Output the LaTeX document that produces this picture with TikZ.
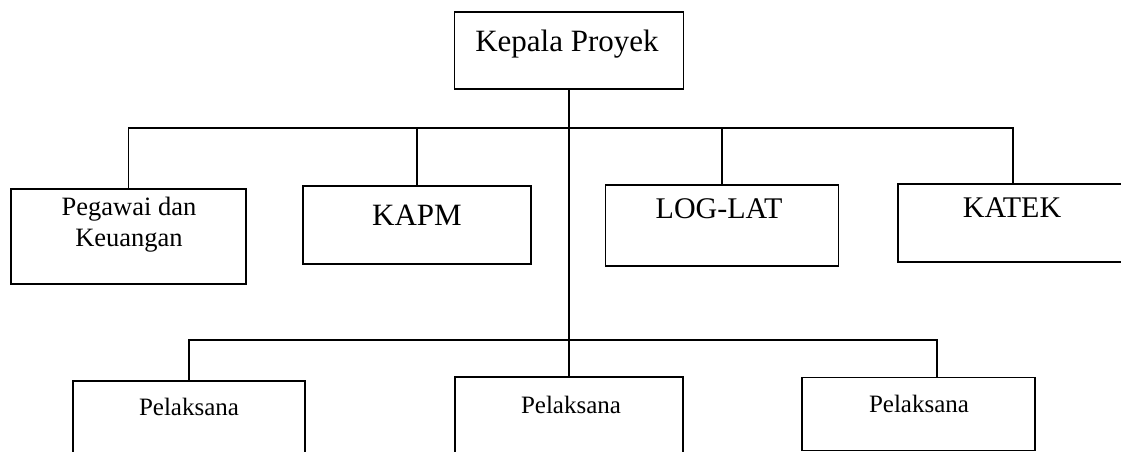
\documentclass[tikz,border=0pt]{standalone}
\usepackage{fontspec}
\setmainfont{Liberation Serif}
\begin{document}
\begin{tikzpicture}[x=1pt,y=-1pt,
  box/.style={draw, rectangle, line width=1.3pt, inner sep=0pt, outer sep=0pt},
  lbl/.style={anchor=base, inner sep=0pt},
  conn/.style={line width=1.3pt}]
\useasboundingbox (0,0) rectangle (1121,452);
\clip (0,0) rectangle (1121,452);
% boxes
\node[box, minimum width=229pt, minimum height=77pt] (kp) at (569,50.5) {};
\node[box, minimum width=235pt, minimum height=95pt] (peg) at (128.5,236.5) {};
\node[box, minimum width=228pt, minimum height=78pt] (kapm) at (417,225) {};
\node[box, minimum width=233pt, minimum height=81pt] (log) at (722,225.5) {};
\node[box, minimum width=230pt, minimum height=78pt] (katek) at (1013,223) {};
\node[box, minimum width=232pt, minimum height=100pt] (p1) at (189,431) {};
\node[box, minimum width=228pt, minimum height=100pt] (p2) at (569,427) {};
\node[box, minimum width=233pt, minimum height=73pt] (p3) at (918.5,414) {};
% texts
\node[lbl, font=\fontsize{31}{37}\selectfont] (tkp) at (567,52) {Kepala Proyek};
\node[lbl, font=\fontsize{26.5}{31}\selectfont] (tpeg1) at (129,215) {Pegawai dan};
\node[lbl, font=\fontsize{26.5}{31}\selectfont] (tpeg2) at (129,246) {Keuangan};
\node[lbl, font=\fontsize{31}{37}\selectfont] (tkapm) at (417,225) {KAPM};
\node[lbl, font=\fontsize{30}{36}\selectfont] (tlog) at (719,218) {LOG-LAT};
\node[lbl, font=\fontsize{30}{36}\selectfont] (tkatek) at (1012,217) {KATEK};
\node[lbl, font=\fontsize{25}{30}\selectfont] (tp1) at (189,415) {Pelaksana};
\node[lbl, font=\fontsize{25}{30}\selectfont] (tp2) at (571,413) {Pelaksana};
\node[lbl, font=\fontsize{25}{30}\selectfont] (tp3) at (919,412) {Pelaksana};
% bus coordinates
\coordinate (bus1) at (0,128);
\coordinate (bus2) at (0,340);
\coordinate (r2) at (937,340);
% connectors
\draw[conn] (kp.south) -- (p2.north);
\draw[conn] (peg.north) -- (peg.north |- bus1) -- (katek.north |- bus1) -- (katek.north);
\draw[conn] (kapm.north) -- (kapm.north |- bus1);
\draw[conn] (log.north) -- (log.north |- bus1);
\draw[conn] (p1.north) -- (p1.north |- bus2) -- (r2) -- (r2 |- p3.north);
\end{tikzpicture}
\end{document}
